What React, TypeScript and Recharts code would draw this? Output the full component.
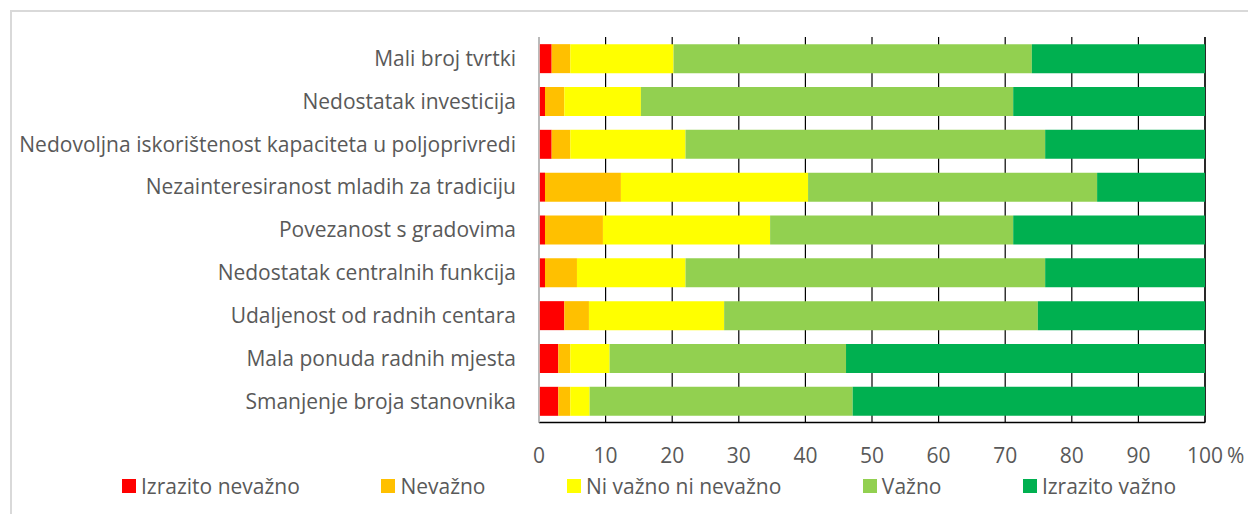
import React from "react";
import { Bar, BarChart, CartesianGrid, XAxis, YAxis } from "recharts";

const categories = [
  "Mali broj tvrtki",
  "Nedostatak investicija",
  "Nedovoljna iskorištenost kapaciteta u poljoprivredi",
  "Nezainteresiranost mladih za tradiciju",
  "Povezanost s gradovima",
  "Nedostatak centralnih funkcija",
  "Udaljenost od radnih centara",
  "Mala ponuda radnih mjesta",
  "Smanjenje broja stanovnika",
];

const izrazitoNevazno = [1.9, 0.9, 1.9, 0.9, 0.9, 0.9, 3.8, 2.9, 2.9];
const nevazno = [2.8, 2.9, 2.8, 11.4, 8.7, 4.8, 3.7, 1.8, 1.8];
const niVazno = [15.5, 11.5, 17.3, 28.1, 25.1, 16.3, 20.3, 5.9, 2.9];
const vazno = [53.8, 55.9, 54.0, 43.4, 36.5, 54.0, 47.1, 35.5, 39.5];
const izrazitoVazno = [26.0, 28.8, 24.0, 16.2, 28.8, 24.0, 25.1, 53.9, 52.9];

const xTicks = [0, 10, 20, 30, 40, 50, 60, 70, 80, 90, 100];

const series = [
  { key: "izrazitoNevazno", name: "Izrazito nevažno", color: "#ff0000" },
  { key: "nevazno", name: "Nevažno", color: "#ffc000" },
  { key: "niVazno", name: "Ni važno ni nevažno", color: "#ffff00" },
  { key: "vazno", name: "Važno", color: "#92d050" },
  { key: "izrazitoVazno", name: "Izrazito važno", color: "#00b050" },
];

const data = categories.map((name, i) => ({
  name,
  izrazitoNevazno: izrazitoNevazno[i],
  nevazno: nevazno[i],
  niVazno: niVazno[i],
  vazno: vazno[i],
  izrazitoVazno: izrazitoVazno[i],
}));

const FONT = "'Open Sans', sans-serif";
const TEXT = "#595959";
const FS = 21;

function XTick(props: any) {
  const { x, y, payload } = props;
  return (
    <g>
      <text
        x={x}
        y={y}
        dy={15}
        textAnchor="middle"
        fill={TEXT}
        fontSize={FS}
        fontFamily={FONT}
      >
        {payload.value}
      </text>
      {payload.value === 100 && (
        <text
          x={x + 22}
          y={y}
          dy={15}
          textAnchor="start"
          fill={TEXT}
          fontSize={FS}
          fontFamily={FONT}
        >
          %
        </text>
      )}
    </g>
  );
}

export default function App() {
  return (
    <div
      style={{
        position: "absolute",
        left: 0,
        top: 0,
        width: 1248,
        height: 514,
        overflow: "hidden",
        background: "#fff",
        fontFamily: FONT,
      }}
    >
      <div
        style={{
          position: "absolute",
          left: 10,
          top: 10,
          width: 1260,
          height: 520,
          border: "2px solid #d9d9d9",
        }}
      />
      <div style={{ position: "absolute", left: 0, top: 0 }}>
        <BarChart
          width={1248}
          height={514}
          data={data}
          layout="vertical"
          margin={{ top: 37, right: 43, bottom: 0, left: 0 }}
          barCategoryGap="16.7%"
        >
          <CartesianGrid horizontal={false} stroke="#000" strokeWidth={1.2} />
          <XAxis
            type="number"
            domain={[0, 100]}
            ticks={xTicks}
            interval={0}
            height={91.5}
            axisLine={{ stroke: "#000", strokeWidth: 1.6 }}
            tickLine={false}
            tickSize={0}
            tickMargin={25}
            tick={<XTick />}
          />
          <YAxis
            type="category"
            dataKey="name"
            width={539}
            axisLine={{ stroke: "#d0d0d0", strokeWidth: 1.6 }}
            tickLine={false}
            tickSize={0}
            tickMargin={23}
            interval={0}
            tick={{ fill: TEXT, fontSize: FS, fontFamily: FONT }}
          />
          {series.map((s) => (
            <Bar
              key={s.key}
              dataKey={s.key}
              name={s.name}
              stackId="a"
              fill={s.color}
              isAnimationActive={false}
            />
          ))}
        </BarChart>
      </div>
      <div
        style={{
          position: "absolute",
          left: 122,
          top: 474,
          display: "flex",
          gap: 81.5,
          alignItems: "center",
          height: 24,
        }}
      >
        {series.map((s) => (
          <div
            key={s.key}
            style={{ display: "flex", alignItems: "center", gap: 5 }}
          >
            <span
              style={{
                width: 14,
                height: 14,
                background: s.color,
                display: "inline-block",
              }}
            />
            <span style={{ color: TEXT, fontSize: FS, lineHeight: "24px" }}>
              {s.name}
            </span>
          </div>
        ))}
      </div>
    </div>
  );
}
